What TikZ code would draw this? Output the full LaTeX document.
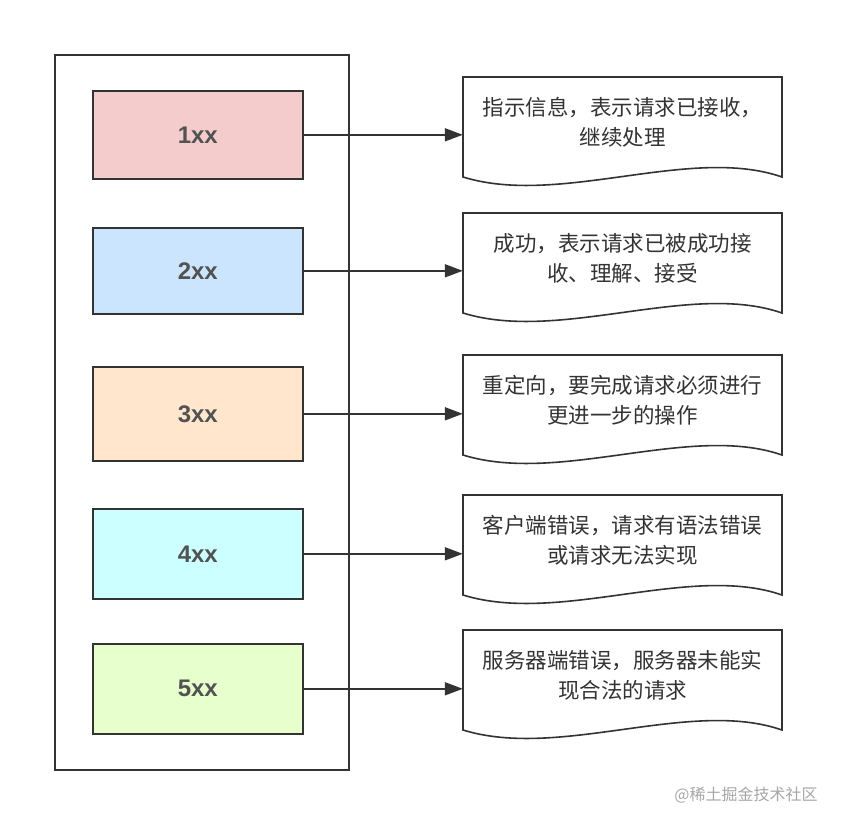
\documentclass[tikz,border=0pt]{standalone}
\usepackage{fontspec}
\setmainfont{Liberation Sans}
\newfontfamily\cjk{Noto Sans CJK SC}
\usetikzlibrary{arrows.meta}
\definecolor{bd}{HTML}{333333}
\definecolor{c1}{HTML}{F4CCCC}
\definecolor{c2}{HTML}{CCE5FF}
\definecolor{c3}{HTML}{FFE6CC}
\definecolor{c4}{HTML}{CCFFFF}
\definecolor{c5}{HTML}{E6FFCC}
\tikzset{
 code/.style={draw=bd,line width=1.6pt,minimum width=210pt,anchor=north west,font=\bfseries\fontsize{24}{28}\selectfont,text=bd!85,inner sep=0},
 conn/.style={draw=bd,line width=1.8pt,-{Triangle[length=18pt,width=13pt]}},
 doctext/.style={font=\cjk\fontsize{21.5}{30}\selectfont,text=bd,align=center},
 docline/.style={draw=bd,line width=1.6pt,fill=white},
}
\begin{document}
\begin{tikzpicture}[x=1pt,y=-1pt]
\useasboundingbox (0,0) rectangle (848,828);
\draw[bd,line width=1.6pt] (55,55) rectangle (349,770);
\foreach \i/\yt/\yb/\dt/\db/\col/\txt in {
 1/90/178/77/177/c1/{指示信息，表示请求已接收，\\继续处理},
 2/227/313/213/313/c2/{成功，表示请求已被成功接\\收、理解、接受},
 3/366/460/355/455/c3/{重定向，要完成请求必须进行\\更进一步的操作},
 4/508/598/495/595/c4/{客户端错误，请求有语法错误\\或请求无法实现},
 5/643/733/630/730/c5/{服务器端错误，服务器未能实\\现合法的请求}}{
 \node[code,fill=\col,minimum height={\yb-\yt}] (b\i) at (92,\yt) {\i xx};
 \path[docline] (463,\dt) -- (782,\dt) -- (782,\db) .. controls (690,\db-32) and (560,\db+30) .. (463,\db) -- cycle;
 \node[inner sep=0,minimum width=319pt,minimum height={\db-\dt}] (d\i) at (622.5,{(\dt+\db)/2}) {};
 \node[doctext] (t\i) at (622.5,{(\dt+\db)/2-5}) {\txt};
 \draw[conn] (b\i.east) -- (d\i.west |- b\i.east);
}
\node[font=\cjk\fontsize{16}{18}\selectfont,text=gray!70] (wm) at (746,795) {@稀土掘金技术社区};
\end{tikzpicture}
\end{document}
